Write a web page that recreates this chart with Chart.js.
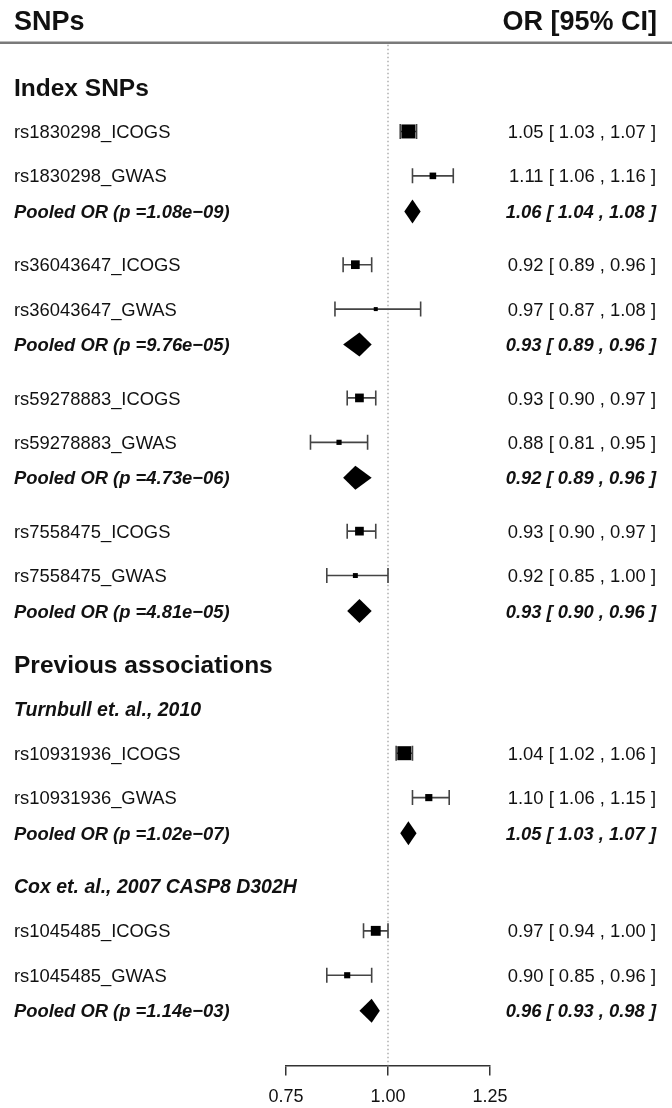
<!DOCTYPE html>
<html>
<head>
<meta charset="utf-8">
<script src="https://cdn.jsdelivr.net/npm/chart.js@4.4.1/dist/chart.umd.min.js"></script>
<style>
  html, body { margin: 0; padding: 0; background: #fff; overflow: hidden; }
  /* a little taller than the window so the axis labels land where the original has them */
  #wrap { width: 672px; height: 1119px; }
</style>
</head>
<body>
<div id="wrap"><canvas id="forest"></canvas></div>
<script>
// Forest plot rows, top to bottom
const rowLabels = [
  'Index SNPs',
  'rs1830298_ICOGS', 'rs1830298_GWAS', 'Pooled OR (p =1.08e\u221209)',
  'rs36043647_ICOGS', 'rs36043647_GWAS', 'Pooled OR (p =9.76e\u221205)',
  'rs59278883_ICOGS', 'rs59278883_GWAS', 'Pooled OR (p =4.73e\u221206)',
  'rs7558475_ICOGS', 'rs7558475_GWAS', 'Pooled OR (p =4.81e\u221205)',
  'Previous associations',
  'Turnbull et. al., 2010',
  'rs10931936_ICOGS', 'rs10931936_GWAS', 'Pooled OR (p =1.02e\u221207)',
  'Cox et. al., 2007 CASP8 D302H',
  'rs1045485_ICOGS', 'rs1045485_GWAS', 'Pooled OR (p =1.14e\u221203)'
];
const rowKinds = [
  'group',
  'study', 'study', 'pooled',
  'study', 'study', 'pooled',
  'study', 'study', 'pooled',
  'study', 'study', 'pooled',
  'group',
  'sub',
  'study', 'study', 'pooled',
  'sub',
  'study', 'study', 'pooled'
];
const orValues = [null, 1.05, 1.11, 1.06, 0.92, 0.97, 0.93, 0.93, 0.88, 0.92, 0.93, 0.92, 0.93,
  null, null, 1.04, 1.10, 1.05, null, 0.97, 0.90, 0.96];
const ciLower = [null, 1.03, 1.06, 1.04, 0.89, 0.87, 0.89, 0.90, 0.81, 0.89, 0.90, 0.85, 0.90,
  null, null, 1.02, 1.06, 1.03, null, 0.94, 0.85, 0.93];
const ciUpper = [null, 1.07, 1.16, 1.08, 0.96, 1.08, 0.96, 0.97, 0.95, 0.96, 0.97, 1.00, 0.96,
  null, null, 1.06, 1.15, 1.07, null, 1.00, 0.96, 0.98];
const xTicks = [0.75, 1.00, 1.25];
const headerLeft = 'SNPs';
const headerRight = 'OR [95% CI]';

const FONT = '"Liberation Sans", Arial, Helvetica, sans-serif';
const INK = '#111';

// pooled rows sit a little higher than the study rows
function rowPos(i) {
  return i + (rowKinds[i] === 'pooled' ? -0.2 : 0);
}

// box side grows with precision (narrower CI -> bigger box)
function boxSide(lo, hi) {
  return 1.65 + 0.494 / (hi - lo);
}

function fmt(v) { return v.toFixed(2); }

const studyPoints = [];
rowKinds.forEach((k, i) => {
  if (k === 'study') studyPoints.push({ x: orValues[i], y: rowPos(i), lo: ciLower[i], hi: ciUpper[i] });
});

function drawText(ctx, text, x, py, size, weight, italic, align) {
  ctx.font = (italic ? 'italic ' : '') + weight + ' ' + size + 'px ' + FONT;
  ctx.textAlign = align;
  ctx.textBaseline = 'alphabetic';
  ctx.fillStyle = INK;
  ctx.fillText(text, x, py + 0.36 * size);
}

const forestPlugin = {
  id: 'forest',
  beforeDatasetsDraw(chart) {
    const { ctx, chartArea } = chart;
    const x = chart.scales.x, y = chart.scales.y;
    ctx.save();
    // header rule
    ctx.strokeStyle = '#7a7a7a';
    ctx.lineWidth = 2.5;
    ctx.beginPath();
    ctx.moveTo(0, y.getPixelForValue(-1));
    ctx.lineTo(chart.width, y.getPixelForValue(-1));
    ctx.stroke();

    // dotted no-effect line
    const x1 = x.getPixelForValue(1);
    ctx.strokeStyle = '#9a9a9a';
    ctx.lineWidth = 1.2;
    ctx.setLineDash([1.5, 2.5]);
    ctx.beginPath();
    ctx.moveTo(x1, y.getPixelForValue(-1) + 2);
    ctx.lineTo(x1, chartArea.bottom);
    ctx.stroke();
    ctx.setLineDash([]);

    // whiskers and pooled diamonds
    rowKinds.forEach((kind, i) => {
      const py = y.getPixelForValue(rowPos(i));
      if (kind === 'study') {
        const xl = x.getPixelForValue(ciLower[i]);
        const xh = x.getPixelForValue(ciUpper[i]);
        ctx.strokeStyle = '#444';
        ctx.lineWidth = 1.6;
        ctx.beginPath();
        ctx.moveTo(xl, py); ctx.lineTo(xh, py);
        ctx.moveTo(xl, py - 7.5); ctx.lineTo(xl, py + 7.5);
        ctx.moveTo(xh, py - 7.5); ctx.lineTo(xh, py + 7.5);
        ctx.stroke();
      } else if (kind === 'pooled') {
        const xl = x.getPixelForValue(ciLower[i]);
        const xh = x.getPixelForValue(ciUpper[i]);
        const xm = x.getPixelForValue(orValues[i]);
        ctx.fillStyle = '#000';
        ctx.beginPath();
        ctx.moveTo(xl, py);
        ctx.lineTo(xm, py - 12);
        ctx.lineTo(xh, py);
        ctx.lineTo(xm, py + 12);
        ctx.closePath();
        ctx.fill();
      }
    });
    ctx.restore();
  },
  afterDraw(chart) {
    const { ctx } = chart;
    const y = chart.scales.y;
    ctx.save();
    const hy = y.getPixelForValue(-1.5);
    drawText(ctx, headerLeft, 14, hy, 27, 'bold', false, 'left');
    drawText(ctx, headerRight, 657, hy, 27, 'bold', false, 'right');

    rowKinds.forEach((kind, i) => {
      const py = y.getPixelForValue(rowPos(i));
      if (kind === 'group') {
        drawText(ctx, rowLabels[i], 14, py, 24.5, 'bold', false, 'left');
      } else if (kind === 'sub') {
        drawText(ctx, rowLabels[i], 14, py, 19.5, 'bold', true, 'left');
      } else {
        const pooled = kind === 'pooled';
        const val = fmt(orValues[i]) + ' [ ' + fmt(ciLower[i]) + ' , ' + fmt(ciUpper[i]) + ' ]';
        drawText(ctx, rowLabels[i], 14, py, 18.4, pooled ? 'bold' : 'normal', pooled, 'left');
        drawText(ctx, val, 656, py, 18.4, pooled ? 'bold' : 'normal', pooled, 'right');
      }
    });
    ctx.restore();
  }
};

new Chart(document.getElementById('forest'), {
  type: 'scatter',
  data: {
    datasets: [{
      data: studyPoints,
      pointStyle: 'rect',
      backgroundColor: '#000',
      borderWidth: 0,
      pointBorderWidth: 0,
      pointRadius: c => boxSide(c.raw.lo, c.raw.hi) / (2 * Math.SQRT1_2),
      pointHoverRadius: c => boxSide(c.raw.lo, c.raw.hi) / (2 * Math.SQRT1_2),
      clip: false
    }]
  },
  options: {
    responsive: true,
    maintainAspectRatio: false,
    animation: false,
    events: [],
    layout: { autoPadding: false, padding: { left: 286, right: 182, top: 0, bottom: 0 } },
    plugins: { legend: { display: false }, tooltip: { enabled: false } },
    scales: {
      x: {
        type: 'linear',
        min: 0.75,
        max: 1.25,
        afterBuildTicks: s => { s.ticks = xTicks.map(v => ({ value: v })); },
        border: { display: true, color: '#333', width: 1.5 },
        grid: { display: true, drawOnChartArea: false, drawTicks: true, tickLength: 10, color: '#333', lineWidth: 1.5 },
        ticks: { color: INK, padding: 11, maxRotation: 0, font: { family: FONT, size: 18 }, callback: v => fmt(v) }
      },
      y: {
        type: 'linear',
        display: false,
        reverse: true,
        min: -1.96,
        max: 22.03
      }
    }
  },
  plugins: [forestPlugin]
});
</script>
</body>
</html>
